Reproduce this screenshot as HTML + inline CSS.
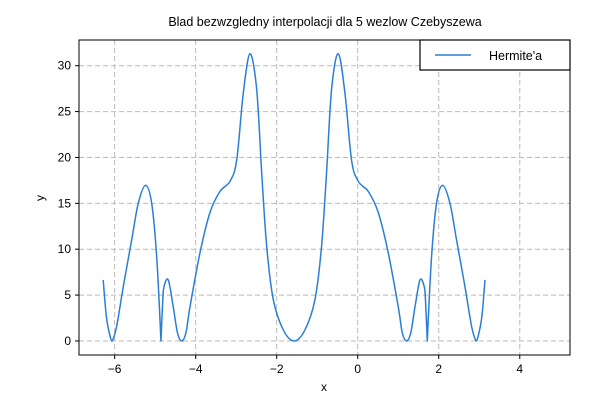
<!DOCTYPE html>
<html><head><meta charset="utf-8"><style>
body{margin:0;background:#fff;font-family:"Liberation Sans",sans-serif}
svg text{font-family:"Liberation Sans",sans-serif;fill:#000}
</style></head><body>
<svg id="chart" width="600" height="400" viewBox="0 0 600 400" xmlns="http://www.w3.org/2000/svg">
<rect width="600" height="400" fill="#fff"/>
<g id="grid"></g>
<g id="series"></g>
<rect x="79" y="40" width="491" height="315" fill="none" stroke="#000" stroke-width="1"/>
<g id="axes"></g>
<text x="325" y="26" text-anchor="middle" font-size="12.5">Blad bezwzgledny interpolacji dla 5 wezlow Czebyszewa</text>
<text x="324" y="391" text-anchor="middle" font-size="12">x</text>
<text x="44" y="198" text-anchor="middle" font-size="12" transform="rotate(-90 44 198)">y</text>
<g>
<rect x="420" y="40" width="150" height="30" fill="#fff" stroke="#000" stroke-width="1.2"/>
<line x1="435" y1="55" x2="471" y2="55" stroke="#2a7fd4" stroke-width="1.5"/>
<text x="489" y="60" font-size="12.5">Hermite'a</text>
</g>
</svg>
<script>
const xs=[-6.283,-6.2,-6.1,-6.059,-5.95,-5.788,-5.580,-5.417,-5.235,-5.086,-4.963,-4.857,-4.815,-4.783,-4.677,-4.553,-4.45,-4.346,-4.24,-4.141,-3.894,-3.647,-3.400,-3.153,-2.988,-2.825,-2.659,-2.494,-2.370,-2.247,-2.084,-1.837,-1.57,-1.303,-1.056,-0.893,-0.770,-0.646,-0.481,-0.315,-0.152,0.013,0.26,0.507,0.754,1.001,1.1,1.206,1.31,1.413,1.537,1.643,1.675,1.717,1.823,1.946,2.095,2.277,2.44,2.648,2.81,2.919,2.96,3.06,3.1416];
const ys=[6.65,2.5,0.3,0,1.6,5.9,11,15,16.95,15,9.2,0,4.2,5.9,6.65,3.7,0.9,0,0.9,3.7,9.6,14,16.3,17.4,19.7,27,31.3,27.4,18.3,10.3,4.5,1.2,0,1.2,4.5,10.3,18.3,27.4,31.3,27,19.7,17.4,16.3,14,9.6,3.7,0.9,0,0.9,3.7,6.65,5.9,4.2,0,9.2,15,16.95,15,11,5.9,1.6,0,0.3,2.5,6.65];
const xTicks=[-6,-4,-2,0,2,4];
const yTicks=[0,5,10,15,20,25,30];
const X0=-6.88,X1=5.24,Y0=-1.53,Y1=32.8;
const L=79,R=570,T=40,B=355;
function sx(v){return L+(v-X0)/(X1-X0)*(R-L);}
function sy(v){return B-(v-Y0)/(Y1-Y0)*(B-T);}
const NS="http://www.w3.org/2000/svg";
function mk(t,a,p){const e=document.createElementNS(NS,t);for(const k in a)e.setAttribute(k,a[k]);p.appendChild(e);return e;}
const grid=document.getElementById('grid'),axes=document.getElementById('axes'),ser=document.getElementById('series');
xTicks.forEach(v=>{
 const g=mk('line',{x1:sx(v),x2:sx(v),y1:T,y2:B,stroke:'#bbb','stroke-dasharray':'5,3','stroke-width':1},grid);
 
 
 const t=mk('line',{x1:sx(v),x2:sx(v),y1:B,y2:B+4,stroke:'#000'},axes);
 
 
 const l=mk('text',{x:sx(v),y:B+18,'text-anchor':'middle','font-size':12},axes);
 l.textContent=(v<0?'\u2212'+(-v):v);
 
 
});
yTicks.forEach(v=>{
 const g=mk('line',{x1:L,x2:R,y1:sy(v),y2:sy(v),stroke:'#bbb','stroke-dasharray':'5,3','stroke-width':1},grid);
 
 
 const t=mk('line',{x1:L-4,x2:L,y1:sy(v),y2:sy(v),stroke:'#000'},axes);
 
 
 const l=mk('text',{x:L-8,y:sy(v)+4,'text-anchor':'end','font-size':12},axes);
 l.textContent=v;
 
 
});
const P=xs.map((x,i)=>[sx(x),sy(ys[i])]);
function isCusp(i){return i>0&&i<xs.length-1&&ys[i]===0&&(ys[i-1]>3&&ys[i+1]>3);}
let d='M'+P[0][0]+','+P[0][1];
for(let i=0;i<P.length-1;i++){
 const p0=P[i-1]||P[i],p1=P[i],p2=P[i+1],p3=P[i+2]||P[i+1];
 let c1=[p1[0]+(p2[0]-p0[0])/6,p1[1]+(p2[1]-p0[1])/6];
 let c2=[p2[0]-(p3[0]-p1[0])/6,p2[1]-(p3[1]-p1[1])/6];
 if(isCusp(i))c1=p1; if(isCusp(i+1))c2=p2;
 c1[1]=Math.min(c1[1],sy(0)); c2[1]=Math.min(c2[1],sy(0));
 d+=' C'+c1[0]+','+c1[1]+' '+c2[0]+','+c2[1]+' '+p2[0]+','+p2[1];
}
const path=mk('path',{d:d,fill:'none',stroke:'#2a7fd4','stroke-width':1.5,'stroke-linejoin':'round'},ser);


</script>
</body></html>
